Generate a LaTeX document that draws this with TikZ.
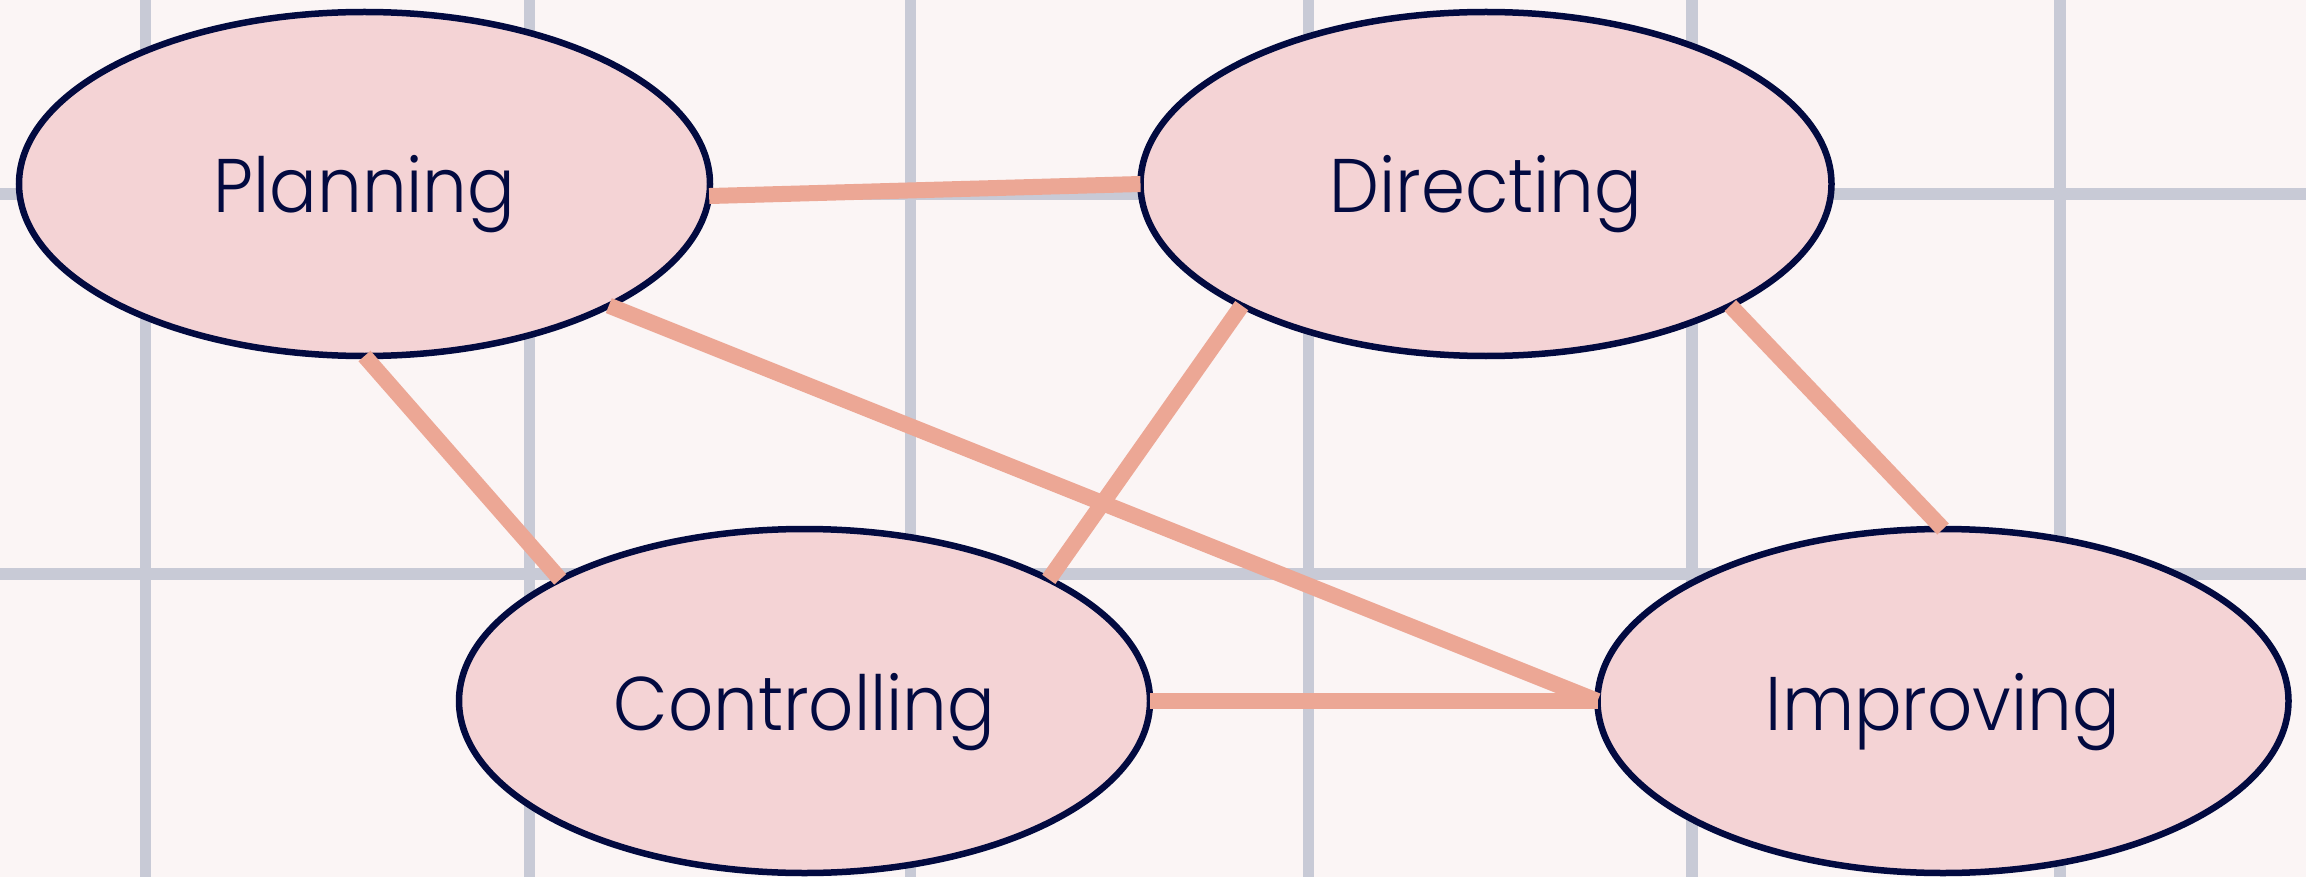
\documentclass[tikz,border=0pt]{standalone}
\usepackage{fontspec}
\setmainfont[FakeStretch=0.93]{Poppins Light}
\usetikzlibrary{shapes.geometric}

\definecolor{paper}{HTML}{FBF5F5}
\definecolor{gridgrey}{HTML}{C8CAD6}
\definecolor{bubble}{HTML}{F4D3D5}
\definecolor{ink}{HTML}{020A40}
\definecolor{salmon}{HTML}{ECA795}

\tikzset{
  gridline/.style={draw=gridgrey, line width=11.5pt},
  stage/.style={ellipse, draw=ink, fill=bubble, line width=6.5pt,
    minimum width=691pt, minimum height=344pt, inner sep=0pt, outer sep=0pt,
    text=ink, font=\fontsize{76}{80}\selectfont,
    text height=58pt, text depth=0pt},
  link/.style={draw=salmon, line width=16pt, line cap=butt}
}

\begin{document}
\begin{tikzpicture}[x=1pt, y=-1pt]
  % canvas
  \fill[paper] (0,0) rectangle (2306,877);
  \useasboundingbox (0,0) rectangle (2306,877);

  % background grid
  \foreach \gx in {145.5, 529.5, 910.5, 1308.5, 1692, 2060}
    \draw[gridline] (\gx,0) -- (\gx,877);
  \foreach \gy in {194, 574}
    \draw[gridline] (0,\gy) -- (2306,\gy);

  % the four stages
  \node[stage] (plan) at (364.5,184) {Planning};
  \node[stage] (dir)  at (1486,184) {Directing};
  \node[stage] (ctrl) at (804.5,701) {Controlling};
  \node[stage] (imp)  at (1943,701) {Improving};

  % links between stages
  \draw[link] (plan.-2.6) -- (dir.west);
  \draw[link] (plan.south) -- (ctrl.north west);
  \draw[link] (plan.south east) -- (imp.west);
  \draw[link] (dir.south west) -- (ctrl.north east);
  \draw[link] (dir.south east) -- (imp.north);
  \draw[link] (ctrl.east) -- (imp.west);
\end{tikzpicture}
\end{document}
